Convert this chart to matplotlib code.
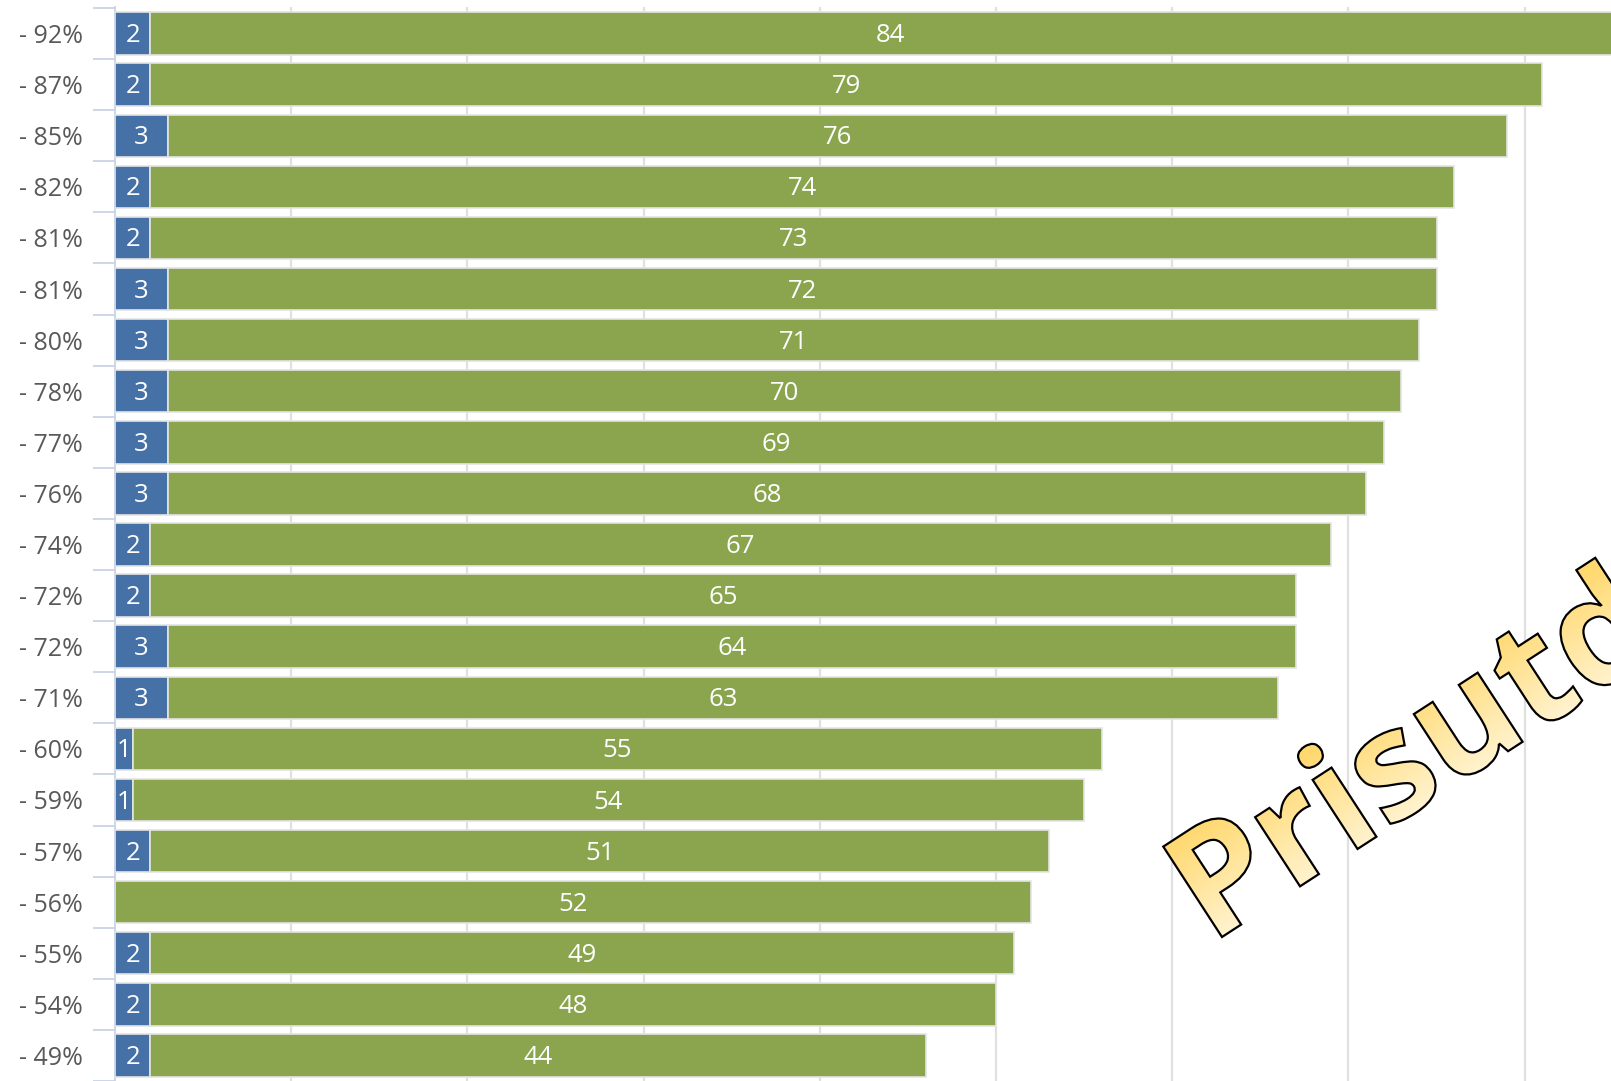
import numpy as np
import matplotlib
matplotlib.use('Agg')
import matplotlib.pyplot as plt
from matplotlib.textpath import TextPath
from matplotlib.font_manager import FontProperties
from matplotlib.patches import PathPatch
import matplotlib.transforms as mtrans

# data
labels = ['- 92%', '- 87%', '- 85%', '- 82%', '- 81%', '- 81%', '- 80%', '- 78%',
          '- 77%', '- 76%', '- 74%', '- 72%', '- 72%', '- 71%', '- 60%', '- 59%',
          '- 57%', '- 56%', '- 55%', '- 54%', '- 49%']
blue_vals = [2, 2, 3, 2, 2, 3, 3, 3, 3, 3, 2, 2, 3, 3, 1, 1, 2, 0, 2, 2, 2]
green_vals = [84, 79, 76, 74, 73, 72, 71, 70, 69, 68, 67, 65, 64, 63, 55, 54, 51, 52, 49, 48, 44]
watermark = 'Prisutd'

blue_c = '#4571a6'
green_c = '#8aa54e'
axis_c = '#c8d3e6'
W, H = 1611, 1081
pitch = 51.45

plt.rcParams['font.family'] = ['Open Sans', 'DejaVu Sans']

fig = plt.figure(figsize=(W / 100, H / 100), dpi=100)
ax = fig.add_axes([115 / W, 0, 1 - 115 / W, 1 - 7 / H])

y = np.arange(len(labels))
b = np.array(blue_vals)
g = np.array(green_vals)
ax.barh(y, b, height=0.83, color=blue_c, edgecolor='#e4e4e4', linewidth=1.2, zorder=3)
ax.barh(y, g, left=b, height=0.83, color=green_c, edgecolor='#e4e4e4', linewidth=1.2, zorder=3)

for i in range(len(labels)):
    if blue_vals[i] > 0:
        ax.text(blue_vals[i] / 2, i + 0.04, str(blue_vals[i]), color='white', fontsize=18.5,
                ha='center', va='center', zorder=4)
    ax.text(blue_vals[i] + green_vals[i] / 2, i + 0.04, str(green_vals[i]), color='white',
            fontsize=18.5, ha='center', va='center', zorder=4)

top = -0.52
ax.set_xlim(0, (W - 115) / 17.62)
ax.set_ylim(top + (H - 7) / pitch, top)
ax.set_xticks(np.arange(10, 90, 10))
ax.xaxis.grid(True, color='#e0e0e0', linewidth=1.6, zorder=0)
ax.set_axisbelow(True)
ax.tick_params(axis='x', length=0, labelbottom=False)

ax.set_yticks(y)
ax.set_yticklabels(labels, fontsize=18, color='#595959')
ax.set_yticks(np.arange(-0.5, len(labels), 1), minor=True)
ax.tick_params(axis='y', which='major', length=0, pad=23)
ax.tick_params(axis='y', which='minor', length=16, width=1.3, color=axis_c, direction='out')
for s in ['top', 'right', 'bottom']:
    ax.spines[s].set_visible(False)
ax.spines['left'].set_color(axis_c)
ax.spines['left'].set_linewidth(1.3)

# watermark text with gradient fill
ov = fig.add_axes([0, 0, 1, 1], zorder=10)
ov.set_xlim(0, W)
ov.set_ylim(0, H)
ov.axis('off')
ov.patch.set_alpha(0)

ang = 33.0
fp = FontProperties(family='Open Sans', weight='bold')
tp = TextPath((0, 0), watermark, size=151, prop=fp)
ext = tp.get_extents()
x0, y0 = 1222, H - 937
tr = mtrans.Affine2D().translate(-ext.x0, 0).rotate_deg(ang).translate(x0, y0)
path = tr.transform_path(tp)

xx, yy = np.meshgrid(np.arange(W) + 0.5, np.arange(H) + 0.5)
a = np.deg2rad(ang)
t = ((xx - x0) * (-np.sin(a)) + (yy - y0) * np.cos(a)) / 108.0
t = np.clip(t, 0, 1)
light = np.array([255, 243, 207]) / 255
dark = np.array([255, 216, 110]) / 255
img = light[None, None, :] * (1 - t[..., None]) + dark[None, None, :] * t[..., None]
im = ov.imshow(img, extent=(0, W, 0, H), origin='lower', interpolation='nearest', aspect='auto')
clip = PathPatch(path, transform=ov.transData, facecolor='none', edgecolor='none')
ov.add_patch(clip)
im.set_clip_path(clip)
ov.add_patch(PathPatch(path, facecolor='none', edgecolor='black', linewidth=1.6))

fig.savefig('out.png', dpi=100)
